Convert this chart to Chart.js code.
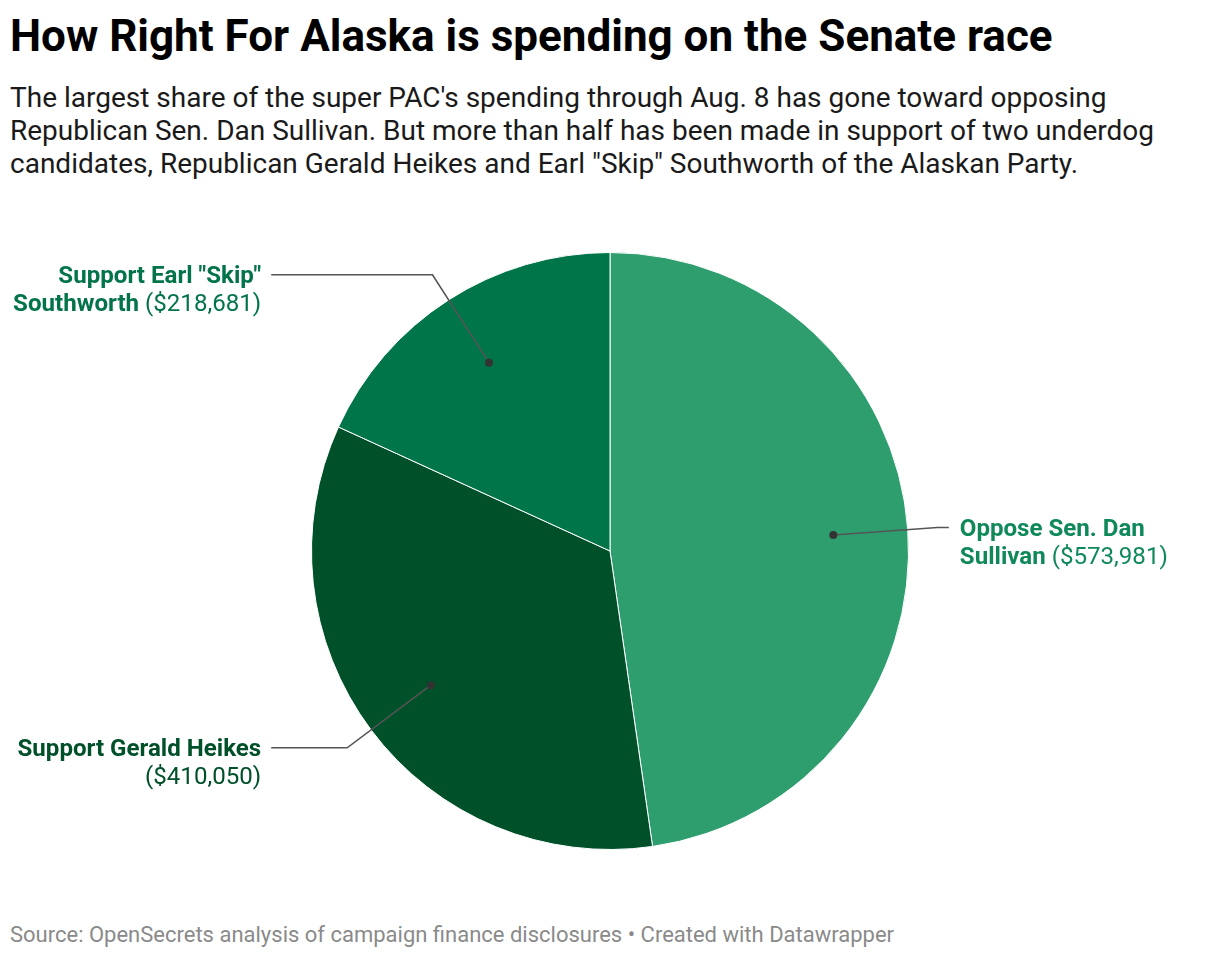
<!DOCTYPE html>
<html>
<head>
<meta charset="utf-8">
<script src="https://cdn.jsdelivr.net/npm/chart.js@4.4.1/dist/chart.umd.min.js"></script>
<style>
  html, body { margin: 0; padding: 0; background: #fff; }
  body { width: 1220px; height: 958px; position: relative; overflow: hidden; font-family: Roboto, "Noto Sans", sans-serif; }
  #title { position: absolute; left: 10px; top: 10px; font-size: 44px; line-height: 52px; font-weight: 700; color: #000; white-space: nowrap; }
  #subtitle { position: absolute; left: 10px; top: 81px; font-size: 28px; line-height: 33px; color: #1a1a1a; width: 1200px; }
  #source { position: absolute; left: 10px; top: 922px; font-size: 22px; line-height: 26px; color: #8a8a8a; white-space: nowrap; }
  #wrap { position: absolute; left: 0; top: 200px; width: 1220px; height: 702px; }
  .lbl { position: absolute; font-size: 24.1px; line-height: 28px; white-space: nowrap; }
  .lbl b { font-weight: 700; }
</style>
</head>
<body>
<div id="title">How Right For Alaska is spending on the Senate race</div>
<div id="subtitle">The largest share of the super PAC's spending through Aug. 8 has gone toward opposing Republican Sen. Dan Sullivan. But more than half has been made in support of two underdog candidates, Republican Gerald Heikes and Earl "Skip" Southworth of the Alaskan Party.</div>
<div id="wrap"><canvas id="c"></canvas></div>
<div id="source">Source: OpenSecrets analysis of campaign finance disclosures • Created with Datawrapper</div>
<script>
const categories = ['Oppose Sen. Dan Sullivan', 'Support Gerald Heikes', 'Support Earl "Skip" Southworth'];
const amounts = [573981, 410050, 218681];
// label line breaks: [bold line 1, bold part of line 2]
const labelLine1 = ['Oppose Sen. Dan', 'Support Gerald Heikes', 'Support Earl "Skip"'];
const labelLine2Bold = ['Sullivan', '', 'Southworth'];
const sliceColors = ['#2e9e6f', '#00502a', '#00754a'];
const labelColors = ['#0f895a', '#00502a', '#03744a'];

const fmt = v => '($' + v.toLocaleString('en-US') + ')';

const leaderPlugin = {
  id: 'leaders',
  afterDraw(chart) {
    const ctx = chart.ctx;
    const meta = chart.getDatasetMeta(0);
    meta.data.forEach((arc, i) => {
      const p = arc.getProps(['x', 'y', 'startAngle', 'endAngle', 'outerRadius'], true);
      const mid = (p.startAngle + p.endAngle) / 2;
      const r = p.outerRadius;
      const dx = p.x + Math.cos(mid) * r * 0.75, dy = p.y + Math.sin(mid) * r * 0.75;
      const ex = p.x + Math.cos(mid) * r * 1.1, ey = p.y + Math.sin(mid) * r * 1.1;
      const right = Math.cos(mid) > 0;
      const lx = right ? p.x + r * 1.135 : p.x - r * 1.135;
      ctx.save();
      ctx.strokeStyle = '#555';
      ctx.lineWidth = 1.6;
      ctx.beginPath();
      ctx.moveTo(dx, dy);
      ctx.lineTo(ex, ey);
      ctx.lineTo(lx, ey);
      ctx.stroke();
      ctx.fillStyle = '#333';
      ctx.beginPath();
      ctx.arc(dx, dy, 4, 0, Math.PI * 2);
      ctx.fill();
      ctx.restore();

      let el = document.getElementById('lbl' + i);
      if (!el) {
        el = document.createElement('div');
        el.id = 'lbl' + i;
        el.className = 'lbl';
        el.style.color = labelColors[i];
        el.style.textAlign = right ? 'left' : 'right';
        const l2b = labelLine2Bold[i];
        el.innerHTML = '<b></b><br>' + (l2b ? '<b></b> ' : '') + '<span></span>';
        const bs = el.querySelectorAll('b');
        bs[0].textContent = labelLine1[i];
        if (l2b) bs[1].textContent = l2b;
        el.querySelector('span').textContent = fmt(amounts[i]);
        document.getElementById('wrap').appendChild(el);
      }
      const top = ey - 14;
      el.style.top = top + 'px';
      if (right) { el.style.left = (lx + 11) + 'px'; el.style.right = ''; }
      else { el.style.right = (1220 - (lx - 10)) + 'px'; el.style.left = ''; }
    });
  }
};

new Chart(document.getElementById('c'), {
  type: 'pie',
  data: {
    labels: categories,
    datasets: [{
      data: amounts,
      backgroundColor: sliceColors,
      borderColor: '#ffffff',
      borderWidth: 1
    }]
  },
  options: {
    responsive: true,
    maintainAspectRatio: false,
    animation: false,
    layout: { padding: { left: 311, right: 311, top: 52, bottom: 52 } },
    plugins: { legend: { display: false }, tooltip: { enabled: false } }
  },
  plugins: [leaderPlugin]
});
</script>
</body>
</html>
